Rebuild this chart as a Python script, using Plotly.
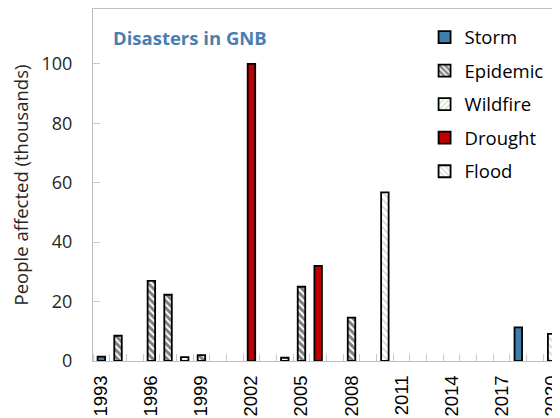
import plotly.graph_objects as go

storm_years = [1993, 2018]
storm_vals = [1.5, 11.3]
epidemic_years = [1994, 1996, 1997, 1999, 2005, 2008]
epidemic_vals = [8.5, 27.0, 22.3, 2.0, 25.0, 14.6]
wildfire_years = [1998]
wildfire_vals = [1.3]
drought_years = [2002, 2006]
drought_vals = [100.0, 32.0]
flood_years = [2004, 2010, 2020]
flood_vals = [1.1, 56.8, 9.1]

tick_years = [1993, 1996, 1999, 2002, 2005, 2008, 2011, 2014, 2017, 2020]
y_ticks = [0, 20, 40, 60, 80, 100]

series = [
    ("Storm", storm_years, storm_vals, dict(color="#3f7fae")),
    ("Epidemic", epidemic_years, epidemic_vals,
     dict(color="white", pattern=dict(shape="\\", fgcolor="black", bgcolor="white", size=5, solidity=0.6))),
    ("Wildfire", wildfire_years, wildfire_vals,
     dict(color="white", pattern=dict(shape="/", fgcolor="#8dc07a", bgcolor="white", size=5, solidity=0.3))),
    ("Drought", drought_years, drought_vals, dict(color="#c00000")),
    ("Flood", flood_years, flood_vals,
     dict(color="white", pattern=dict(shape="\\", fgcolor="#a8a8a8", bgcolor="white", size=5, solidity=0.3))),
]

fig = go.Figure()
for i, (name, xs, ys, mk) in enumerate(series):
    mk = dict(mk)
    mk["line"] = dict(color="black", width=1.8)
    fig.add_trace(go.Bar(x=xs, y=ys, name=name, marker=mk, width=0.45,
                         legendgroup="g%d" % i))

fig.update_layout(
    width=552, height=410,
    margin=dict(l=85, r=0, t=1, b=57, autoexpand=False),
    paper_bgcolor="white", plot_bgcolor="white",
    barmode="overlay",
    showlegend=True,
    legend=dict(x=0.71, y=0.973, xanchor="left", yanchor="top",
                font=dict(family="Open Sans", size=18.5, color="black"),
                tracegroupgap=6.5, bgcolor="rgba(0,0,0,0)",
                itemwidth=30),
    font=dict(family="Open Sans", color="black"),
    annotations=[dict(text="<b>Disasters in GNB</b>", xref="paper", yref="paper",
                      x=0.039, y=0.919, xanchor="left", yanchor="middle",
                      showarrow=False,
                      font=dict(family="Open Sans", size=18.5, color="#4a7eb0"))],
)
fig.update_xaxes(
    range=[1992.5, 2020.5], automargin=False,
    tickmode="array", tickvals=tick_years, ticktext=[str(t) for t in tick_years],
    tickangle=-90, ticks="", showgrid=False, zeroline=False,
    tickfont=dict(family="Liberation Sans", size=18.5, color="black"),
    ticklabelstandoff=6, ticklabeloverflow="allow",
    showline=True, linecolor="#bfbfbf", linewidth=1, mirror=True,
    minor=dict(ticks="inside", ticklen=7, tickcolor="#c8c8c8", tick0=1992.5, dtick=1, showgrid=False),
)
fig.update_yaxes(
    range=[0, 118.5], tickmode="array", tickvals=y_ticks, automargin=False,
    ticks="inside", ticklen=7, tickcolor="#c8c8c8",
    showgrid=False, zeroline=False,
    showline=True, linecolor="#bfbfbf", linewidth=1,
    ticklabelstandoff=16,
    tickfont=dict(family="Open Sans", size=18, color="#262626"),
    title=dict(text="People affected (thousands)", font=dict(family="Open Sans", size=18.5, color="#262626"), standoff=14),
)
fig.write_html("out.html")
